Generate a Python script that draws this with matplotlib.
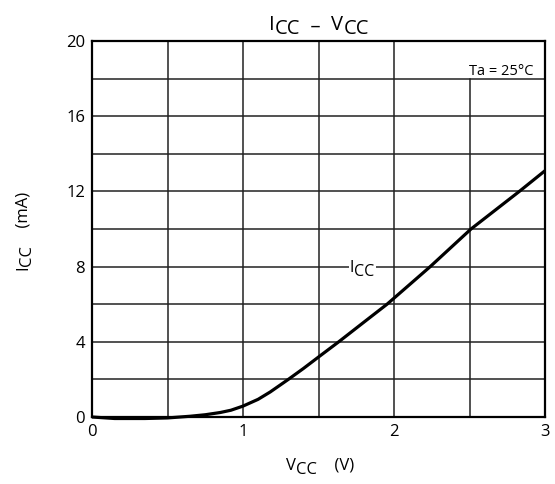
import numpy as np
import matplotlib.pyplot as plt

plt.rcParams['font.family'] = ['Open Sans', 'DejaVu Sans']

vcc = [0, 0.15, 0.35, 0.5, 0.65, 0.75, 0.85, 0.92, 1.0, 1.1, 1.18, 1.3, 1.4,
       1.5, 1.634, 1.8, 1.954, 2.1, 2.24, 2.51, 2.83, 3.0]
icc = [0, -0.08, -0.08, -0.05, 0.04, 0.12, 0.24, 0.36, 0.58, 0.94, 1.33, 2.0,
       2.58, 3.19, 4.0, 5.04, 6.0, 7.02, 8.0, 10.0, 12.0, 13.1]

xticks = [0, 1, 2, 3]
yticks = [0, 4, 8, 12, 16, 20]
xgrid = [0.5, 1.0, 1.5, 2.0, 2.5]
ygrid = [2, 4, 6, 8, 10, 12, 14, 16, 18]

W, H = 555, 484
fig = plt.figure(figsize=(W / 100, H / 100), dpi=100)
ax = fig.add_axes([92 / W, 67 / H, 453 / W, 376 / H])
ax.set_xlim(0, 3)
ax.set_ylim(0, 20)
R = fig.canvas.get_renderer()

def textwidth(s, size):
    t = fig.text(0, 0, s, fontsize=size)
    w = t.get_window_extent(R).width
    t.remove()
    return w

def piecetext(cx, cy, parts, size, rot=0, bg=False):
    # parts = [(string, drop in px)], centred on cx,cy (pixels, cy = main baseline)
    widths = [textwidth(s, size) for s, d in parts]
    pos = -sum(widths) / 2
    for (s, d), w in zip(parts, widths):
        if rot == 0:
            x, y = cx + pos, cy - d
        else:
            x, y = cx + d, cy + pos
        kw = {}
        if bg:
            kw['bbox'] = dict(facecolor='white', edgecolor='none', pad=1.0)
        fig.text(x, y, s, transform=None, fontsize=size, ha='left', va='baseline',
                 rotation=rot, rotation_mode='anchor', **kw)
        pos += w

#----- grid (the 2.5 V line stops under the Ta box) -----#
for xg in xgrid:
    top = 18 if xg == 2.5 else 20
    ax.plot([xg, xg], [0, top], color='#222222', lw=1.1, zorder=1)
for yg in ygrid:
    ax.axhline(yg, color='#222222', lw=1.1, zorder=1)

ax.plot(vcc, icc, color='black', lw=2.3, zorder=3, solid_capstyle='butt', clip_on=False)

ax.text(2.71, 18.4, 'Ta = 25°C', fontsize=10.5, ha='center', va='center')

for s in ax.spines.values():
    s.set_linewidth(1.6)
ax.set_xticks(xticks)
ax.set_yticks(yticks)
ax.tick_params(length=0, labelsize=12, pad=5)

# curve label, title and axis labels with the lowered "CC"
lx, ly = ax.transData.transform((1.79, 7.95))
piecetext(lx, ly - 4, [('I', 0), ('CC', 4.5)], 11.5, bg=True)
piecetext(319, H - 30, [('I', 0), ('CC', 4), ('  –  ', 2), ('V', 0), ('CC', 4)], 14.5)
piecetext(320, H - 470, [('V', 0), ('CC', 4.5), ('    (V)', 0)], 12)
piecetext(27, H - 231, [('I', 0), ('CC', 4.5), ('    (mA)', 0)], 12, rot=90)

fig.savefig('out.png', dpi=100)
